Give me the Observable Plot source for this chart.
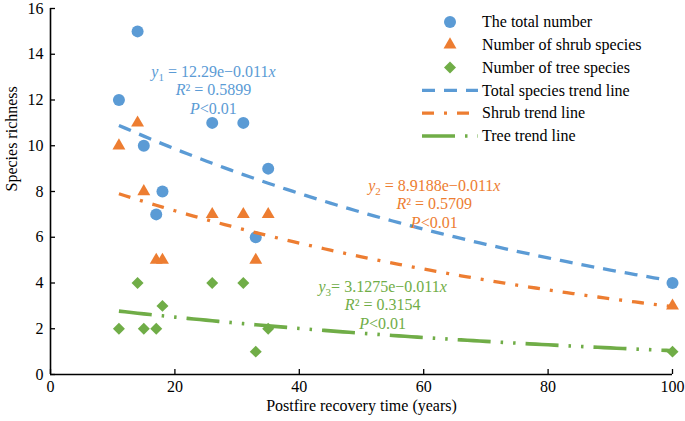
<!DOCTYPE html>
<html><head><meta charset="utf-8">
<script src="https://cdn.jsdelivr.net/npm/d3@7"></script>
<script src="https://cdn.jsdelivr.net/npm/@observablehq/plot@0.6"></script>
<style>
body{margin:0;background:#fff;}
#wrap{position:relative;width:685px;height:421px;}
#wrap svg{position:absolute;left:0;top:0;}
</style></head><body><div id="wrap"></div>
<script>
// ---- data ----
const years = [11, 14, 15, 17, 18, 26, 31, 33, 35, 100];
const totalNumber = [12, 15, 10, 7, 8, 11, 11, 6, 9, 4];
const shrubNumber = [10, 11, 8, 5, 5, 7, 7, 5, 7, 3];
const treeNumber = [2, 4, 2, 2, 3, 4, 4, 1, 2, 1];
const seriesNames = ["The total number", "Number of shrub species", "Number of tree species"];
const trendNames = ["Total species trend line", "Shrub trend line", "Tree trend line"];
const trendCoef = [12.29, 8.9188, 3.1275];   // y = a·e^(b·x)
const trendRate = -0.011;
const trendRange = [11, 100];
const eqLines = [
  ["*y*~1~ = 12.29e\u22120.011*x*", "*R*\u00b2 = 0.5899", "*P*<0.01"],
  ["*y*~2~ = 8.9188e\u22120.011*x*", "*R*\u00b2 = 0.5709", "*P*<0.01"],
  ["*y*~3~= 3.1275e\u22120.011*x*", "*R*\u00b2 = 0.3154", "*P*<0.01"]
];
const xTicks = [0, 20, 40, 60, 80, 100];
const yTicks = [0, 2, 4, 6, 8, 10, 12, 14, 16];
const xTitle = "Postfire recovery time (years)";
const yTitle = "Species richness";

// ---- styles / layout ----
const colors = ["#5B9BD5", "#ED7D31", "#70AD47"];
const symbols = ["circle", "triangle", "diamond2"];
const symR = [6, 4.8, 5.4];
const dashes = ["13,9", "12,10,3,10", "33,10,2.5,10,2.5,10"];
const lineW = [3.3, 3.3, 3.6];
const eqPos = [{x: 26.2, y: 13.25}, {x: 61.7, y: 8.26}, {x: 53.4, y: 3.85}];
const eqGap = 18.5;
const font = "Liberation Serif";

const seriesValues = [totalNumber, shrubNumber, treeNumber];
const pointRows = seriesValues.map((vals, i) => years.map((x, k) => ({x, y: vals[k], s: i})));
const trendX = d3.range(trendRange[0], trendRange[1] + 0.001, 1);
const trendRows = trendCoef.map((a, i) => trendX.map(x => ({x, y: a * Math.exp(trendRate * x), s: i})));

const marks = [];
marks.push(Plot.ruleY([0], {stroke: "#000", strokeWidth: 1.6}));
marks.push(Plot.ruleX([0], {stroke: "#000", strokeWidth: 1.6}));
marks.push(Plot.axisX({ticks: xTicks, tickSize: -5, tickPadding: 11, label: null, fontSize: 16, fill: "#000", stroke: "#000", strokeWidth: 1.3}));
marks.push(Plot.axisY({ticks: yTicks, tickSize: -5, tickPadding: 12, label: null, fontSize: 16, fill: "#000", stroke: "#000", strokeWidth: 1.3}));
pointRows.forEach((rows, i) => {
  marks.push(Plot.dot(rows, {x: "x", y: "y", symbol: () => symbols[i], r: symR[i], fill: colors[i], stroke: "none"}));
});
trendRows.forEach((rows, i) => {
  marks.push(Plot.line(rows, {x: "x", y: "y", stroke: colors[i], strokeWidth: lineW[i], strokeDasharray: dashes[i], strokeLinecap: "butt", curve: "linear"}));
});
eqLines.forEach((lines, i) => {
  lines.forEach((t, j) => {
    marks.push(Plot.text([t], {x: () => eqPos[i].x, y: () => eqPos[i].y, dy: j * eqGap, text: d => d, fill: colors[i], fontSize: 16, textAnchor: "middle"}));
  });
});
marks.push(Plot.text([xTitle], {frameAnchor: "bottom", text: d => d, dy: 36, fontSize: 16, fill: "#000"}));
marks.push(Plot.text([yTitle], {frameAnchor: "left", text: d => d, dx: -39, rotate: -90, fontSize: 16, fill: "#000"}));

const chart = Plot.plot({
  width: 685, height: 421,
  marginLeft: 50, marginRight: 13, marginTop: 8, marginBottom: 47,
  x: {domain: [0, 100]},
  y: {domain: [0, 16]},
  style: {fontSize: "16px", color: "#000", background: "#fff", overflow: "visible"},
  marks
});

const NS = "http://www.w3.org/2000/svg";
function richify(el) {
  const s = el.textContent;
  if (!/[*~]/.test(s)) return;
  el.textContent = "";
  const re = /\*([^*]+)\*|~([^~]+)~|([^*~]+)/g;
  let m, shift = 0;
  while ((m = re.exec(s))) {
    const t = document.createElementNS(NS, "tspan");
    if (m[2] !== undefined) {
      t.textContent = m[2];
      t.setAttribute("font-size", "11");
      t.setAttribute("dy", "4");
      shift = 4;
      el.appendChild(t);
      continue;
    }
    if (m[1] !== undefined) { t.textContent = m[1]; t.setAttribute("font-style", "italic"); }
    else t.textContent = m[3];
    if (shift) { t.setAttribute("dy", String(-shift)); shift = 0; }
    el.appendChild(t);
  }
}
chart.querySelectorAll("text").forEach(richify);
document.getElementById("wrap").appendChild(chart);

// ---- legend overlay ----
const leg = d3.select("#wrap").append("svg").attr("width", 685).attr("height", 421)
  .style("pointer-events", "none").attr("font-size", 16);
const legY0 = 22, legStep = 22.8, legMarkX = 450, legLine = [422, 478], legTextX = 482;
const legendItems = seriesNames.map((n, i) => ({n, i, kind: "pt"})).concat(trendNames.map((n, i) => ({n, i, kind: "ln"})));
legendItems.forEach((it, k) => {
  const y = legY0 + k * legStep;
  if (it.kind === "pt") {
    const size = Math.PI * symR[it.i] * symR[it.i];
    const sym = {circle: d3.symbolCircle, triangle: d3.symbolTriangle, diamond2: d3.symbolDiamond2}[symbols[it.i]];
    leg.append("path").attr("d", d3.symbol(sym, size)()).attr("transform", `translate(${legMarkX},${y})`).attr("fill", colors[it.i]);
  } else {
    leg.append("line").attr("x1", legLine[0]).attr("x2", legLine[1]).attr("y1", y).attr("y2", y)
      .attr("stroke", colors[it.i]).attr("stroke-width", lineW[it.i]).attr("stroke-dasharray", dashes[it.i]);
  }
  leg.append("text").attr("x", legTextX).attr("y", y).attr("dy", "0.32em").attr("fill", "#000").text(it.n);
});

// force the serif face on every text element
document.querySelectorAll("#wrap text").forEach(t => t.setAttribute("font-family", font));
</script>
</body></html>
